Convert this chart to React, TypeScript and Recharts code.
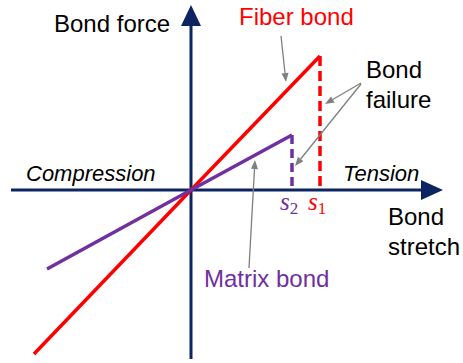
import { ComposedChart, Line, XAxis, YAxis, ReferenceLine, ReferenceDot } from 'recharts'

// bond laws: stretch (x) vs bond force (y), arbitrary units
const fiberStretch = [-15.7, 0, 12.9]
const fiberForce = [-16.4, 0, 13.4]
const matrixStretch = [-14.4, 0, 10.1]
const matrixForce = [-7.9, 0, 5.5]

// failure stretch s1 (fiber) and s2 (matrix) with the force they drop from
const failureNames = ['fiber', 'matrix']
const failureStretch = [12.9, 10.1]
const failureForce = [13.4, 5.5]

// drawn extent of the two axes
const stretchAxis = [-18, 25.2]
const forceAxis = [-16.9, 18.5]

const NAVY = '#0c2462'
const RED = '#ff0000'
const PURPLE = '#7030a0'
const GRAY = '#7f7f7f'
const SANS = '"Liberation Sans", Arial, sans-serif'
const SERIF = '"Liberation Serif", "Times New Roman", serif'

const toPoints = (xs: number[], ys: number[]) => xs.map((x, i) => ({ x, y: ys[i] }))

const fiberData = toPoints(fiberStretch, fiberForce)
const matrixData = toPoints(matrixStretch, matrixForce)
const dropData = failureNames.map((_, i) => [
  { x: failureStretch[i], y: failureForce[i] },
  { x: failureStretch[i], y: 0 },
])

// annotation texts, anchored at their left baseline
const labels = [
  { text: 'Bond force', x: -13.7, y: 15.8, color: '#000', italic: false },
  { text: 'Fiber bond', x: 4.8, y: 16.5, color: RED, italic: false },
  { text: 'Bond', x: 17.5, y: 11.2, color: '#000', italic: false },
  { text: 'failure', x: 17.5, y: 8.2, color: '#000', italic: false },
  { text: 'Compression', x: -16.5, y: 0.9, color: '#000', italic: true },
  { text: 'Tension', x: 15.2, y: 0.9, color: '#000', italic: true },
  { text: 'Bond', x: 19.7, y: -3.5, color: '#000', italic: false },
  { text: 'stretch', x: 19.7, y: -6.5, color: '#000', italic: false },
  { text: 'Matrix bond', x: 1.3, y: -9.7, color: PURPLE, italic: false },
]

// gray pointer arrows: from -> to
const pointers = [
  [{ x: 9.0, y: 15.4 }, { x: 9.5, y: 10.8 }],
  [{ x: 17.0, y: 10.7 }, { x: 13.4, y: 8.6 }],
  [{ x: 17.0, y: 10.6 }, { x: 10.4, y: 2.4 }],
  [{ x: 5.8, y: -7.8 }, { x: 6.4, y: 3.0 }],
]

const PointerShape = (props: any) => {
  const { x1, y1, x2, y2 } = props
  const a = Math.atan2(y2 - y1, x2 - x1)
  const len = 9
  const half = 3.5
  const bx = x2 - len * Math.cos(a)
  const by = y2 - len * Math.sin(a)
  const px = -Math.sin(a) * half
  const py = Math.cos(a) * half
  return (
    <g>
      <line x1={x1} y1={y1} x2={bx} y2={by} stroke={GRAY} strokeWidth={1.3} />
      <polygon points={`${x2},${y2} ${bx + px},${by + py} ${bx - px},${by - py}`} fill={GRAY} />
    </g>
  )
}

const ArrowHead = (dir: 'right' | 'up') => (p: any) => {
  const { cx, cy } = p
  const pts =
    dir === 'right'
      ? `${cx},${cy} ${cx - 22},${cy - 10} ${cx - 22},${cy + 10}`
      : `${cx},${cy} ${cx - 10},${cy + 21} ${cx + 10},${cy + 21}`
  return <polygon points={pts} fill={NAVY} />
}

const TextAt = (text: string, color: string, italic: boolean) => (p: any) => (
  <text
    x={p.cx}
    y={p.cy}
    fill={color}
    fontFamily={SANS}
    fontSize={italic ? 22 : 24}
    fontStyle={italic ? 'italic' : 'normal'}
  >
    {text}
  </text>
)

const StretchMark = (sub: string, color: string) => (p: any) => (
  <text x={p.cx - 12} y={p.cy + 20} fill={color} fontFamily={SERIF} fontSize={25}>
    <tspan fontStyle="italic">s</tspan>
    <tspan fontSize={17} dy={4}>{sub}</tspan>
  </text>
)

const lineProps = {
  type: 'linear' as const,
  strokeWidth: 3.5,
  strokeLinecap: 'butt' as const,
  dot: false,
  activeDot: false,
  isAnimationActive: false,
}

export default function App() {
  return (
    <div style={{ position: 'absolute', left: 0, top: 0, background: '#fff' }}>
      <ComposedChart width={463} height={363} margin={{ top: 0, right: 0, bottom: 0, left: 0 }}>
        <XAxis type="number" dataKey="x" domain={[-19.1, 27.2]} hide allowDataOverflow />
        <YAxis type="number" domain={[-17.3, 19.0]} hide allowDataOverflow />

        <ReferenceLine
          segment={[{ x: stretchAxis[0], y: 0 }, { x: stretchAxis[1] - 2, y: 0 }]}
          stroke={NAVY}
          strokeWidth={3}
          ifOverflow="visible"
        />
        <ReferenceLine
          segment={[{ x: 0, y: forceAxis[0] }, { x: 0, y: forceAxis[1] - 2 }]}
          stroke={NAVY}
          strokeWidth={3}
          ifOverflow="visible"
        />
        <ReferenceDot x={stretchAxis[1]} y={0} r={0} shape={ArrowHead('right')} ifOverflow="visible" />
        <ReferenceDot x={0} y={forceAxis[1]} r={0} shape={ArrowHead('up')} ifOverflow="visible" />

        <Line data={fiberData} dataKey="y" stroke={RED} {...lineProps} />
        <Line data={matrixData} dataKey="y" stroke={PURPLE} {...lineProps} />
        <Line data={dropData[0]} dataKey="y" stroke={RED} strokeDasharray="10 5" {...lineProps} />
        <Line data={dropData[1]} dataKey="y" stroke={PURPLE} strokeDasharray="9 5" {...lineProps} />

        {pointers.map((seg, i) => (
          <ReferenceLine key={`p${i}`} segment={seg} shape={PointerShape} ifOverflow="visible" />
        ))}

        <ReferenceDot x={failureStretch[1]} y={0} r={0} shape={StretchMark('2', PURPLE)} ifOverflow="visible" />
        <ReferenceDot x={failureStretch[0]} y={0} r={0} shape={StretchMark('1', RED)} ifOverflow="visible" />

        {labels.map((l) => (
          <ReferenceDot
            key={l.text + l.y}
            x={l.x}
            y={l.y}
            r={0}
            shape={TextAt(l.text, l.color, l.italic)}
            ifOverflow="visible"
          />
        ))}
      </ComposedChart>
    </div>
  )
}
